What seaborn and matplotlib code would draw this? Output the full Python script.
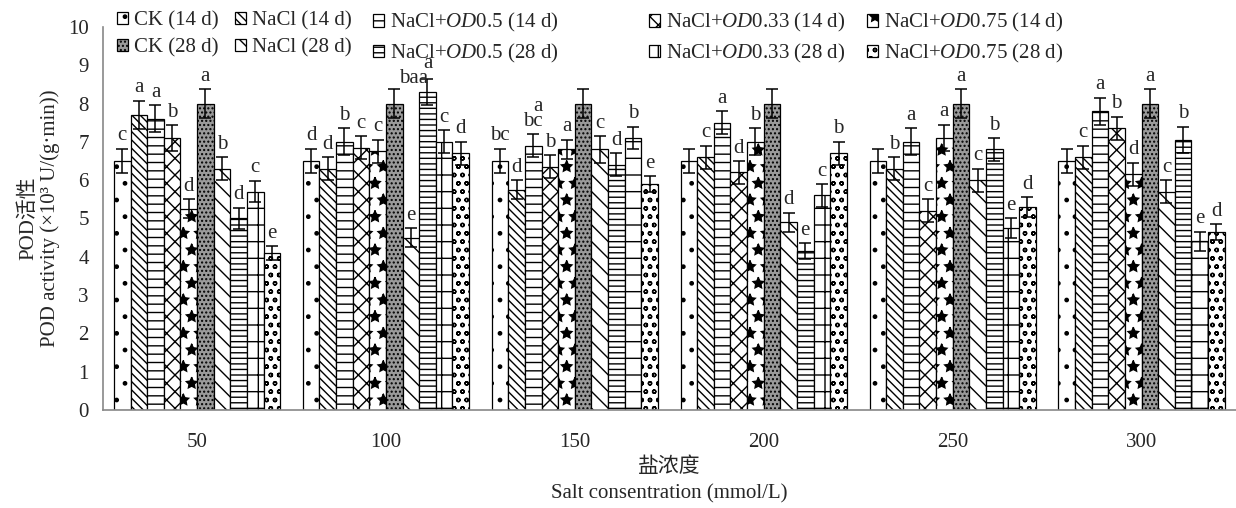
import numpy as np
import pandas as pd
import matplotlib
matplotlib.use("Agg")
import matplotlib.pyplot as plt
import seaborn as sns

groups = ["50", "100", "150", "200", "250", "300"]
series = ["CK (14 d)", "NaCl (14 d)", r"NaCl+$\mathit{OD}$0.5 (14 d)",
          r"NaCl+$\mathit{OD}$0.33 (14 d)", r"NaCl+$\mathit{OD}$0.75 (14 d)",
          "CK (28 d)", "NaCl (28 d)", r"NaCl+$\mathit{OD}$0.5 (28 d)",
          r"NaCl+$\mathit{OD}$0.33 (28 d)", r"NaCl+$\mathit{OD}$0.75 (28 d)"]

ck_14 = [6.5, 6.5, 6.5, 6.5, 6.5, 6.5]
nacl_14 = [7.7, 6.3, 5.75, 6.6, 6.3, 6.6]
od05_14 = [7.6, 7.0, 6.9, 7.5, 7.0, 7.8]
od033_14 = [7.1, 6.85, 6.35, 6.2, 5.2, 7.35]
od075_14 = [5.25, 6.75, 6.8, 7.0, 7.1, 6.15]
ck_28 = [8.0, 8.0, 8.0, 8.0, 8.0, 8.0]
nacl_28 = [6.3, 4.5, 6.8, 4.9, 6.0, 5.7]
od05_28 = [5.0, 8.3, 6.4, 4.15, 6.8, 7.05]
od033_28 = [5.7, 7.0, 7.1, 5.6, 4.75, 4.4]
od075_28 = [4.1, 6.7, 5.9, 6.7, 5.3, 4.65]
values = [ck_14, nacl_14, od05_14, od033_14, od075_14,
          ck_28, nacl_28, od05_28, od033_28, od075_28]

errors = [[0.32] * 6,
          [0.37, 0.3, 0.25, 0.3, 0.3, 0.3],
          [0.35, 0.35, 0.3, 0.3, 0.35, 0.35],
          [0.34, 0.3, 0.3, 0.3, 0.3, 0.3],
          [0.25, 0.3, 0.25, 0.35, 0.35, 0.3],
          [0.38] * 6,
          [0.3, 0.25, 0.35, 0.25, 0.3, 0.3],
          [0.28, 0.35, 0.3, 0.2, 0.3, 0.35],
          [0.28, 0.3, 0.3, 0.3, 0.25, 0.25],
          [0.18, 0.3, 0.2, 0.3, 0.25, 0.2]]

# significance letters, per group, in series order
letters = [["c", "a", "a", "b", "d", "a", "b", "d", "c", "e"],
           ["d", "d", "b", "c", "c", "a\nbaa ", "e", "", "c", "d"],
           ["bc", "d", "a\nbc", "b", "a", "", "c", "d", "b", "e"],
           ["", "c", "a", "d", "b", "", "d", "e", "c", "b"],
           ["", "b", "a", "c", "a", "a", "c", "b", "e", "d"],
           ["", "c", "a", "b", "d", "a", "c", "b", "e", "d"]]
nudge = {(1, 5): (1.3, -0.06)}

hatches = [".", "\\\\\\\\", "--", "xx", "*", "....", "\\\\", "---", "+", "oo"]
faces = ["white"] * 5 + ["#9a9a9a"] + ["white"] * 4

rows = []
for s, vals in zip(series, values):
    for g, v in zip(groups, vals):
        rows.append({"conc": g, "trt": s, "pod": v})
df = pd.DataFrame(rows)

sns.set_style("white")
fonts = ["Liberation Serif", "Noto Sans CJK SC"]
plt.rcParams["font.family"] = fonts
plt.rcParams["mathtext.fontset"] = "custom"
plt.rcParams["mathtext.rm"] = "Liberation Serif"
plt.rcParams["mathtext.it"] = "Liberation Serif:italic"
plt.rcParams["hatch.linewidth"] = 1.0
plt.rcParams["axes.unicode_minus"] = False

fig = plt.figure(figsize=(12.36, 5.08), dpi=100)
ax = fig.add_axes([0.083, 0.193, 0.917, 0.754])

sns.barplot(data=df, x="conc", y="pod", hue="trt", order=groups, hue_order=series,
            palette=["white"] * 10, width=0.88, errorbar=None, legend=False,
            edgecolor="black", linewidth=0.9, ax=ax)

bars = list(ax.containers)
for i, cont in enumerate(bars):
    for j, p in enumerate(cont.patches):
        p.set_hatch(hatches[i])
        p.set_facecolor(faces[i])
        p.set_edgecolor("black")
        w = p.get_width()
        x = p.get_x() + w / 2
        top = p.get_height() + errors[i][j]
        ax.errorbar(x, p.get_height(), yerr=errors[i][j], fmt="none",
                    ecolor="black", elinewidth=1.1, capsize=4, capthick=1.1)
        lab = letters[j][i]
        if lab:
            dx, dy = nudge.get((j, i), (0, 0))
            ax.text(x + dx * w, top + 0.09 + dy, lab, ha="center",
                    va="bottom", fontsize=15, linespacing=0.7, multialignment="right")

ax.set_xlim(-0.5, 5.5)
ax.set_ylim(0, 10)
ax.set_yticks(range(0, 11))
ax.set_xticks(np.arange(len(groups)))
ax.set_xticklabels(groups)
ax.set_xticks(np.arange(0.5, len(groups) - 0.5, 1), minor=True)
ax.tick_params(axis="x", which="major", length=0, pad=16.5, labelsize=15)
ax.tick_params(axis="x", which="minor", length=5, direction="in", color="#888888")
ax.tick_params(axis="y", length=5, direction="in", color="#888888", pad=10, labelsize=15)
for side in ["top", "right"]:
    ax.spines[side].set_visible(False)
for side in ["left", "bottom"]:
    ax.spines[side].set_color("#888888")
    ax.spines[side].set_linewidth(1.2)

ax.set_xlabel("盐浓度\nSalt consentration (mmol/L)", fontsize=15, labelpad=4, linespacing=1.5)
ax.set_ylabel("POD活性\nPOD activity (×10³ U/(g·min))", fontsize=15, labelpad=6, linespacing=1.1)

# legend: one two-row column per treatment, 14 d above 28 d
col_x = [117, 235, 373, 649, 867]
for c, xpix in enumerate(col_x):
    fig.legend([bars[c], bars[c + 5]], [series[c], series[c + 5]],
               loc="upper left", bbox_to_anchor=(xpix / 1236, 0.978), ncol=1,
               frameon=False, fontsize=15, handlelength=0.55, handleheight=0.55,
               handletextpad=0.25, labelspacing=0.36, borderpad=0, borderaxespad=0)

fig.savefig("out.png", dpi=100)
